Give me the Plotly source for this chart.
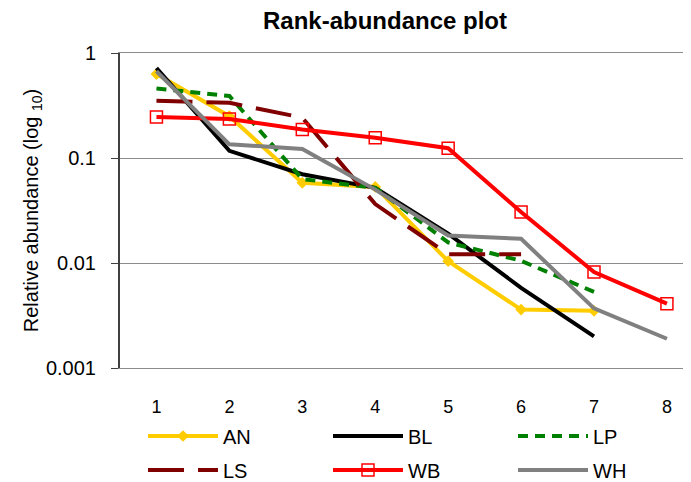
import plotly.graph_objects as go

ranks = [1, 2, 3, 4, 5, 6, 7, 8]
tick_labels = ["1", "2", "3", "4", "5", "6", "7", "8"]

AN = [0.63, 0.25, 0.058, 0.053, 0.0104, 0.0036, 0.0035]
BL = [0.72, 0.117, 0.070, 0.052, 0.019, 0.0058, 0.0020]
LP = [0.46, 0.39, 0.063, 0.052, 0.0157, 0.0105, 0.0053]
LS = [0.35, 0.336, 0.242, 0.0364, 0.0121, 0.0121]
WB = [0.246, 0.235, 0.187, 0.156, 0.124, 0.0306, 0.0082, 0.0041]
WH = [0.67, 0.135, 0.122, 0.050, 0.0183, 0.0170, 0.0037, 0.0019]

FONT = "Liberation Sans, Arial"
W, H = 683, 474  # page body has an 8px margin; figure sized to fit the 691x482 window

fig = go.Figure()

def add(name, vals, color, legend, dash="solid", marker=None):
    kw = dict(mode="lines")
    if marker:
        kw = dict(mode="lines+markers", marker=marker)
    fig.add_trace(go.Scatter(
        x=ranks[:len(vals)], y=vals, name=name,
        line=dict(color=color, width=4, dash=dash),
        legend=legend, showlegend=True, **kw))

add("AN", AN, "#FFCC00", "legend", marker=dict(symbol="diamond", size=9, color="#FFCC00"))
add("BL", BL, "#000000", "legend2")
add("LP", LP, "#008000", "legend3", dash="10px,7px")
add("LS", LS, "#800000", "legend4", dash="36px,14px")
add("WB", WB, "#FF0000", "legend5",
    marker=dict(symbol="square-open", size=12, color="#FF0000", line=dict(width=1.5)))
add("WH", WH, "#808080", "legend6")

def leg(xpx, ypx):
    return dict(orientation="h", xanchor="left", yanchor="middle",
                x=xpx / W, y=1 - ypx / H,
                font=dict(family=FONT, size=20, color="#000"),
                itemwidth=70, bgcolor="rgba(0,0,0,0)", visible=True,
                xref="container", yref="container")

cols = [135, 320, 505]
rows = [428, 462]

fig.update_layout(
    width=W, height=H, showlegend=True,
    paper_bgcolor="white", plot_bgcolor="white",
    margin=dict(l=112, r=0, t=45, b=114, autoexpand=False),
    title=dict(text="<b>Rank-abundance plot</b>", x=377 / W, xanchor="center",
               xref="container", yref="container", y=1 - 13 / H, yanchor="middle",
               font=dict(family=FONT, size=24, color="#000")),
    font=dict(family=FONT, color="#000"),
    legend=leg(cols[0], rows[0]),
    legend2=leg(cols[1], rows[0]),
    legend3=leg(cols[2], rows[0]),
    legend4=leg(cols[0], rows[1]),
    legend5=leg(cols[1], rows[1]),
    legend6=leg(cols[2], rows[1]),
    xaxis=dict(range=[0.5, 8.33], tickmode="array", tickvals=ranks, ticktext=tick_labels,
               showgrid=False, zeroline=False, showline=True, linecolor="#8c8c8c",
               linewidth=1, mirror=True, ticks="",
               ticklabelstandoff=22, tickfont=dict(size=18, color="#000")),
    yaxis=dict(type="log", range=[-3, 0], tickmode="array", tickvals=[0.001, 0.01, 0.1, 1],
               ticktext=["0.001", "0.01", "0.1", "1"],
               showgrid=True, gridcolor="#8c8c8c", gridwidth=1,
               showline=True, linecolor="#404040", linewidth=2,
               ticks="outside", ticklen=7, tickcolor="#404040",
               tickfont=dict(size=20, color="#000"), ticklabelstandoff=11,
               title=dict(text="Relative abundance (log <sub>10</sub>)", standoff=2,
                          font=dict(size=20, color="#000"))),
)

fig.write_html("out.html")
